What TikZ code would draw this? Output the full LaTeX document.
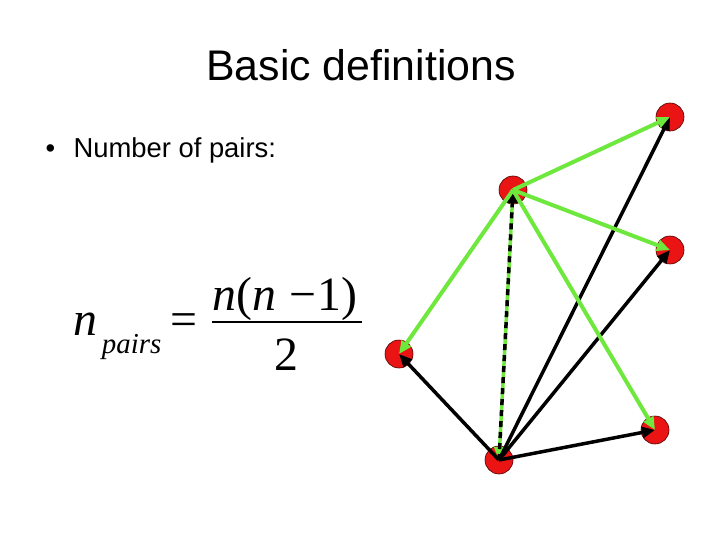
\documentclass[tikz,border=0pt]{standalone}
\usepackage{fontspec}
\setmainfont{Liberation Sans}
\newfontfamily\timesfont{Liberation Serif}
\usetikzlibrary{arrows.meta}

\definecolor{limegr}{RGB}{110,232,60}
\definecolor{ptred}{RGB}{235,20,20}

\begin{document}
\begin{tikzpicture}[
  x=1bp, y=-1bp,
  punto/.style={circle, draw=black!70!red, line width=0.6pt, fill=ptred,
                minimum size=28bp, inner sep=0pt},
  negra/.style={-{Triangle[length=13bp, width=11bp]}, line width=3.5bp, black},
  verde/.style={-{Triangle[length=13bp, width=11bp]}, line width=4bp, limegr},
  titulo/.style={font=\fontsize{43}{48}\selectfont, anchor=base},
  texto/.style={font=\fontsize{27.5}{32}\selectfont, anchor=base west},
  formula/.style={font=\fontsize{48}{54}\selectfont\timesfont, anchor=base west,
                  inner sep=0pt}
]
\useasboundingbox (0,0) rectangle (720,540);

% texts
\node[titulo] (tit) at (361,81) {Basic definitions};
\node[texto] (bul) at (42,158) {\textbullet};
\node[texto] (num) at (70,158) {Number of pairs:};

% formula
\node[formula] (npairs) at (73,335)
  {{\itshape n}\raisebox{-18bp}{\fontsize{29}{30}\selectfont\itshape \,pairs}};
\node[formula] (igual) at (170,335) {=};
\node[formula, anchor=base] (numer) at (285,310)
  {{\itshape n\/}({\itshape n\/}\;\textminus\kern1bp 1)};
\node[formula, anchor=base] (denom) at (286,370) {2};
\coordinate (barl) at (212,322);
\coordinate (barr) at (362,322);
\draw[line width=1.6bp] (barl) -- (barr);

% points
\node[punto] (p1) at (513,190) {};
\node[punto] (p2) at (670,117) {};
\node[punto] (p3) at (670,250) {};
\node[punto] (p4) at (399,354) {};
\node[punto] (p5) at (655,430) {};
\node[punto] (p6) at (499,460) {};

% pairs from p6
\draw[verde, line width=3.5bp] (p1.center) -- (p6.center);
\draw[negra, dash pattern=on 6bp off 5bp] (p6.center) -- (p1.center);
\foreach \b in {p4, p2, p3, p5}
  \draw[negra] (p6.center) -- (\b.center);

% pairs from p1
\foreach \b in {p2, p3, p4, p5}
  \draw[verde] (p1.center) -- (\b.center);
\end{tikzpicture}
\end{document}
